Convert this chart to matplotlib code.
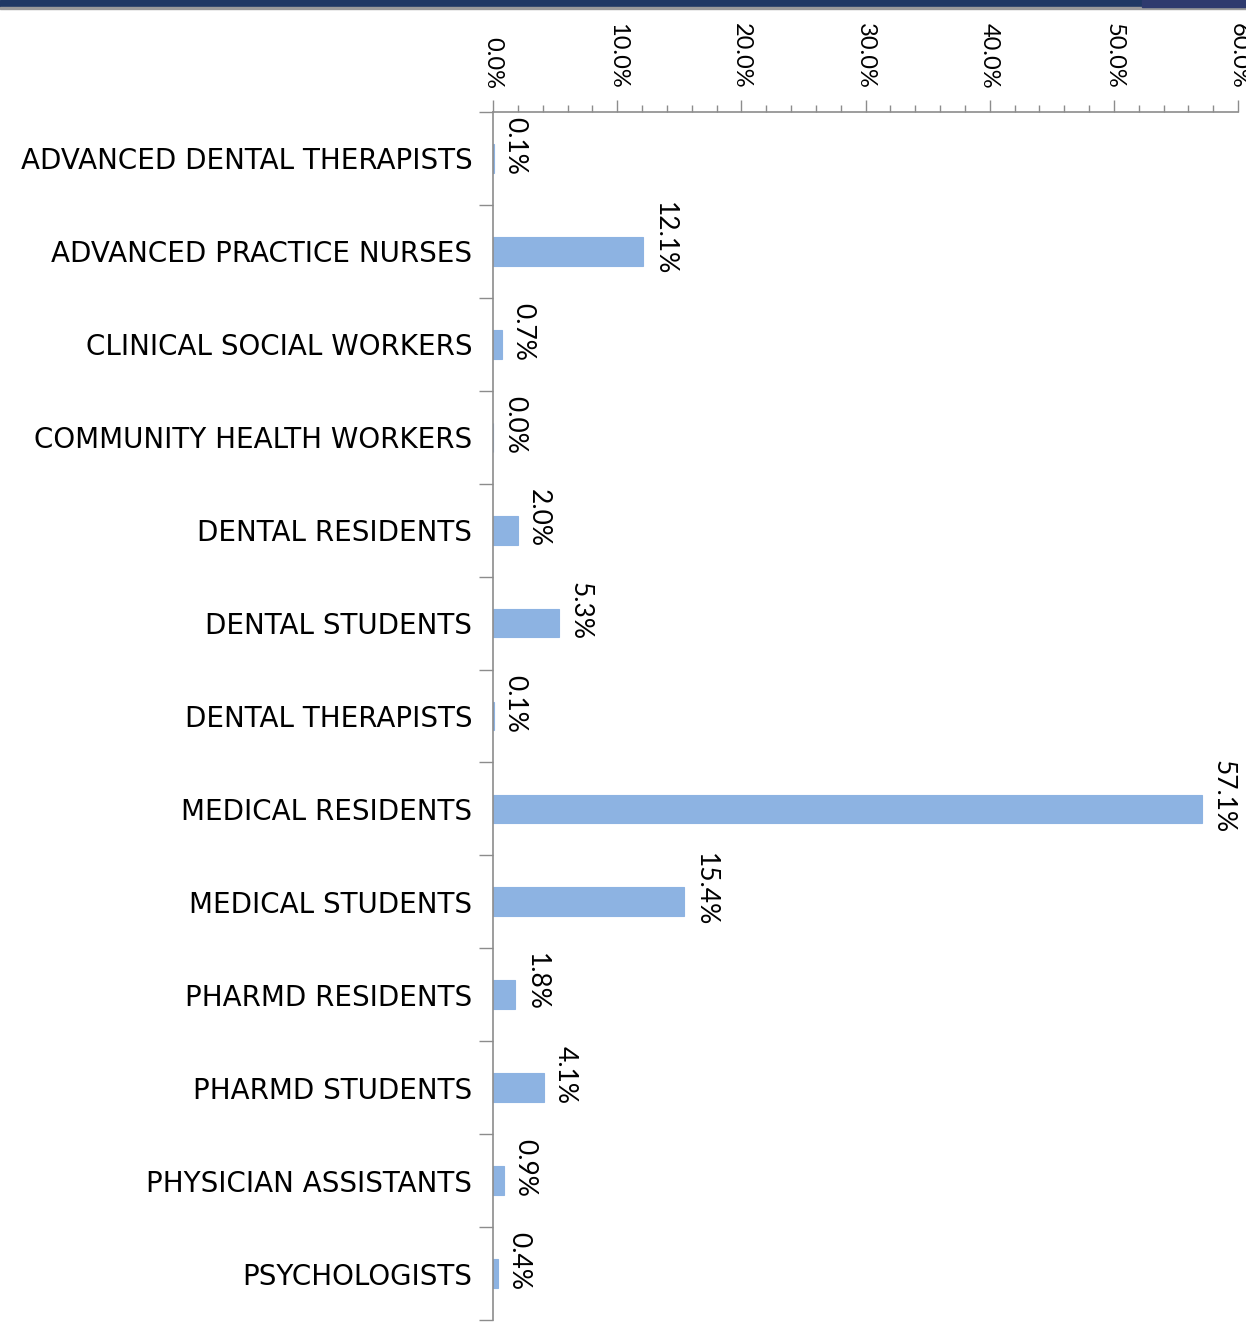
import matplotlib.pyplot as plt
from matplotlib.patches import Rectangle
from matplotlib.ticker import MultipleLocator, FuncFormatter

categories = [
    "ADVANCED DENTAL THERAPISTS",
    "ADVANCED PRACTICE NURSES",
    "CLINICAL SOCIAL WORKERS",
    "COMMUNITY HEALTH WORKERS",
    "DENTAL RESIDENTS",
    "DENTAL STUDENTS",
    "DENTAL THERAPISTS",
    "MEDICAL RESIDENTS",
    "MEDICAL STUDENTS",
    "PHARMD RESIDENTS",
    "PHARMD STUDENTS",
    "PHYSICIAN ASSISTANTS",
    "PSYCHOLOGISTS",
]
# percent of total
shares = [0.1, 12.1, 0.7, 0.04, 2.0, 5.3, 0.1, 57.1, 15.4, 1.8, 4.1, 0.9, 0.4]

bar_color = "#8DB3E2"
axis_gray = "#8C8C8C"

fig = plt.figure(figsize=(12.46, 13.43), dpi=100)
ax = fig.add_axes([493 / 1246, 23 / 1343, (1238 - 493) / 1246, (1320 - 112) / 1343])

ypos = list(range(len(categories)))
ax.barh(ypos, shares, height=0.31, color=bar_color, edgecolor=bar_color, linewidth=0.8)

ax.set_ylim(len(categories) - 0.5, -0.5)
ax.set_xlim(0, 60)

# x axis on top, rotated labels
ax.xaxis.set_ticks_position("top")
ax.xaxis.set_label_position("top")
ax.xaxis.set_major_locator(MultipleLocator(10))
ax.xaxis.set_minor_locator(MultipleLocator(2))
ax.xaxis.set_major_formatter(FuncFormatter(lambda v, p: f"{v:.1f}%"))
ax.tick_params(axis="x", which="major", direction="out", length=9, width=1,
               color=axis_gray, pad=7.5, labelsize=17, labelrotation=-90,
               labelfontfamily="Lato")
ax.tick_params(axis="x", which="minor", direction="out", length=5, width=1, color=axis_gray)

# category ticks sit between bars
ax.set_yticks([i - 0.5 for i in range(len(categories) + 1)], minor=False)
ax.set_yticklabels([""] * (len(categories) + 1))
ax.set_yticks(ypos, minor=True)
ax.set_yticklabels(categories, minor=True, family="DejaVu Sans", fontsize=20)
ax.tick_params(axis="y", which="major", direction="out", length=10, width=1, color=axis_gray)
ax.tick_params(axis="y", which="minor", length=0, pad=15)

for side in ["right", "bottom"]:
    ax.spines[side].set_visible(False)
for side in ["left", "top"]:
    ax.spines[side].set_color(axis_gray)
    ax.spines[side].set_linewidth(1.2)

for y, v in zip(ypos, shares):
    ax.annotate(f"{v:.1f}%", xy=(v, y), xytext=(6, 9), textcoords="offset points",
                rotation=-90, ha="left", va="center", fontsize=19, family="Lato",
                annotation_clip=False)

# banner strip at the top of the slide
fig.patches.append(Rectangle((0, 1 - 7 / 1343), 1, 7 / 1343, transform=fig.transFigure,
                             color="#1F3864", zorder=0))
fig.patches.append(Rectangle((0, 1 - 9 / 1343), 1, 2 / 1343, transform=fig.transFigure,
                             color="#9A9A9A", zorder=0))
fig.patches.append(Rectangle((1142 / 1246, 1 - 7 / 1343), 104 / 1246, 7 / 1343,
                             transform=fig.transFigure, color="#2E3A6E", zorder=1))

fig.savefig("out.png", dpi=100)
